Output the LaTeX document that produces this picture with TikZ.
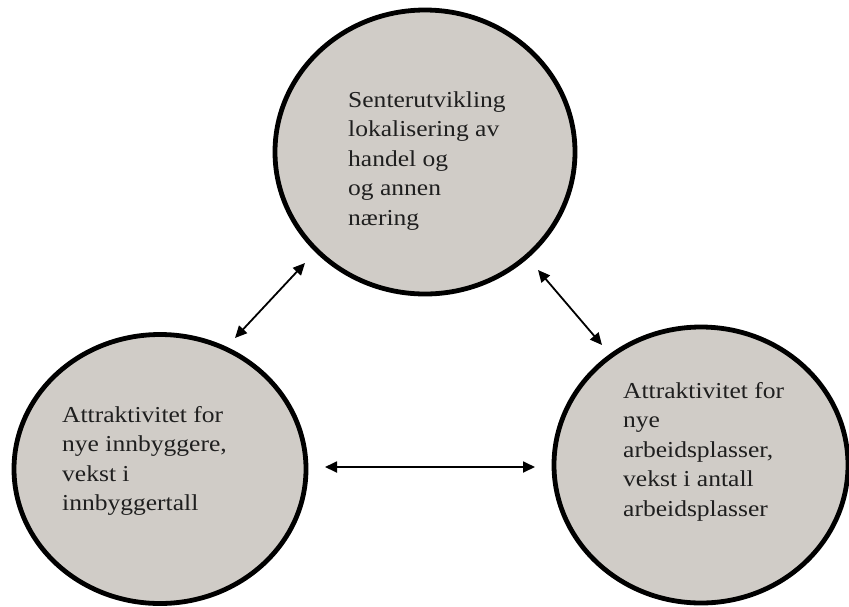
\documentclass[tikz,border=0pt]{standalone}
\usepackage{fontspec}
\setmainfont{Liberation Serif}[FakeStretch=1.12]
\usetikzlibrary{arrows.meta,shapes.geometric}
\definecolor{bubblefill}{RGB}{208,204,199}
\tikzset{
  bubble/.style={ellipse, draw=black, line width=4.8pt, fill=bubblefill, inner sep=0pt},
  bubbletext/.style={anchor=base west, align=left, inner sep=0pt,
    font=\fontsize{22.8pt}{29.5pt}\selectfont, text=black!88},
  link/.style={line width=1.8pt, {Triangle[length=12pt,width=11pt]}-{Triangle[length=12pt,width=11pt]}}
}
\begin{document}
\begin{tikzpicture}[x=1pt,y=-1pt]
\useasboundingbox (0,0) rectangle (849,606);
\node[bubble, minimum width=300pt, minimum height=284pt] (top) at (425,152) {};
\node[bubble, minimum width=292pt, minimum height=269pt] (left) at (160,469) {};
\node[bubble, minimum width=294pt, minimum height=276pt] (right) at (701,465) {};
% base anchor of a multi-line node is the baseline of its last line
\node[bubbletext] (toptext) at (348,225) {Senterutvikling\\lokalisering av\\handel og\\og annen\\næring};
\node[bubbletext] (lefttext) at (62,510.5) {Attraktivitet for\\nye innbyggere,\\vekst i\\innbyggertall};
\node[bubbletext] (righttext) at (623,516) {Attraktivitet for\\nye\\arbeidsplasser,\\vekst i antall\\arbeidsplasser};
\coordinate (la) at (235,338);
\coordinate (lb) at (305,263);
\coordinate (ra) at (538,270);
\coordinate (rb) at (602,345);
\coordinate (ba) at (325,467);
\coordinate (bb) at (535,467);
\draw[link] (la) -- (lb);
\draw[link] (ra) -- (rb);
\draw[link] (ba) -- (bb);
\end{tikzpicture}
\end{document}
